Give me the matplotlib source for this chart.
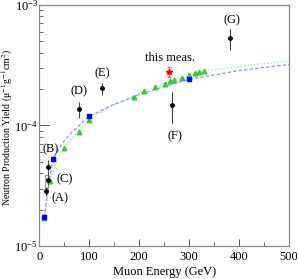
import matplotlib
matplotlib.use("Agg")
import matplotlib.pyplot as plt
from matplotlib.patches import Rectangle

plt.rcParams['font.family'] = ['Liberation Serif', 'DejaVu Serif']
plt.rcParams['mathtext.fontset'] = 'stix'

# Past measurements (black)
meas_E = [13.5, 16.5, 16.5, 80, 125, 265, 382]
meas_Y = [2.84e-5, 4.5e-5, 3.54e-5, 1.37e-4, 2.03e-4, 1.47e-4, 5.26e-4]
meas_lo = [2.6e-5, 3.9e-5, 3.2e-5, 1.16e-4, 1.80e-4, 1.05e-4, 4.2e-4]
meas_hi = [3.1e-5, 5.2e-5, 3.9e-5, 1.55e-4, 2.23e-4, 1.88e-4, 6.25e-4]
meas_lab = ['(A)', '(B)', '(C)', '(D)', '(E)', '(F)', '(G)']

# This measurement (red)
this_E = [260]
this_Y = [2.77e-4]
this_lo = [2.53e-4]
this_hi = [3.04e-4]

# Simulation 1 (blue squares) and its curve
blue_E = [10, 28, 100, 300]
blue_Y = [1.73e-5, 5.3e-5, 1.19e-4, 2.41e-4]
blue_curve_E = [10, 15, 20, 28, 40, 50, 65, 80, 100, 150, 200, 250, 300, 400, 500]
blue_curve_Y = [1.73e-5, 2.6e-5, 3.6e-5, 5.3e-5, 6.5e-5, 7.5e-5, 8.8e-5, 1.0e-4, 1.19e-4,
                1.5e-4, 1.8e-4, 2.1e-4, 2.41e-4, 2.85e-4, 3.2e-4]

# Simulation 2 (green triangles) and its curve
green_E = [10, 21, 49, 79, 100, 189, 209, 231, 251, 262, 270, 286, 300, 311, 320, 330]
green_Y = [1.72e-5, 3.47e-5, 6.5e-5, 8.9e-5, 1.11e-4, 1.72e-4, 1.94e-4, 2.08e-4, 2.2e-4,
           2.33e-4, 2.37e-4, 2.47e-4, 2.6e-4, 2.72e-4, 2.77e-4, 2.82e-4]
green_curve_E = [10, 21, 35, 49, 65, 79, 100, 140, 189, 209, 231, 262, 300, 330, 400, 450, 500]
green_curve_Y = [1.72e-5, 3.47e-5, 5.1e-5, 6.5e-5, 7.8e-5, 8.9e-5, 1.11e-4, 1.43e-4, 1.72e-4,
                 1.94e-4, 2.08e-4, 2.33e-4, 2.6e-4, 2.82e-4, 3.07e-4, 3.25e-4, 3.41e-4]

fig = plt.figure(figsize=(2.99, 2.79), dpi=100)
ax = fig.add_axes([0.132, 0.118, 0.8346, 0.865])

ax.plot(green_curve_E, green_curve_Y, color='#aaeeaa', ls=(0, (1.2, 1.2)), lw=1.0, zorder=1)
ax.plot(blue_curve_E, blue_curve_Y, color='#9999ff', ls=(0, (2.5, 1.5)), lw=1.0, zorder=1)
ax.plot(green_E, green_Y, ls='none', marker='^', ms=3.3, color='#33cc33', zorder=2)
ax.plot(blue_E, blue_Y, ls='none', marker='s', ms=3.2, color='#0000ff', zorder=3)

# systematic box for (C)
ax.add_patch(Rectangle((11.5, 3.05e-5), 6.0, 0.8e-5, fill=False, ec='#999999', lw=0.8, zorder=2))

yerr = [[y - l for y, l in zip(meas_Y, meas_lo)], [h - y for y, h in zip(meas_Y, meas_hi)]]
ax.errorbar(meas_E, meas_Y, yerr=yerr, fmt='o', ms=2.5, color='black', ecolor='#444444',
            elinewidth=0.8, capsize=0, zorder=4)
terr = [[this_Y[0] - this_lo[0]], [this_hi[0] - this_Y[0]]]
ax.errorbar(this_E, this_Y, yerr=terr, fmt='*', ms=4, color='#ff0000', ecolor='#ff6666',
            elinewidth=0.8, capsize=1.5, zorder=4)

lab_pos = [(42, 2.5e-5), (23, 6.4e-5), (51, 3.55e-5), (79, 1.9e-4), (125, 2.68e-4),
           (272, 8.1e-5), (385, 7.4e-4)]
for lab, (lx, ly) in zip(meas_lab, lab_pos):
    ax.text(lx, ly, lab, fontsize=9, ha='center', va='center')
ax.text(262, 3.6e-4, 'this meas.', fontsize=9, ha='center', va='center')

ax.set_xlim(0, 500)
ax.set_yscale('log')
ax.set_ylim(1e-5, 1e-3)
ax.set_xticks([0, 100, 200, 300, 400, 500])
ax.set_xticks([50, 150, 250, 350, 450], minor=True)
ax.tick_params(which='both', direction='in', top=False, right=False, labelsize=9, color='#555555')
ax.tick_params(which='major', length=5, width=0.7)
ax.tick_params(which='minor', length=3, width=0.6)
ax.tick_params(axis='y', which='major', length=7, pad=1.0)
for s in ax.spines.values():
    s.set_color('#888888')
    s.set_linewidth(0.9)

ax.set_xlabel('Muon Energy (GeV)', fontsize=9, labelpad=2)
ax.set_ylabel('Neutron Production Yield (μ$^{-1}$g$^{-1}$cm$^{2}$)', fontsize=7.1)
ax.yaxis.set_label_coords(-0.099, 0.49)

fig.savefig('out.png', dpi=100)
